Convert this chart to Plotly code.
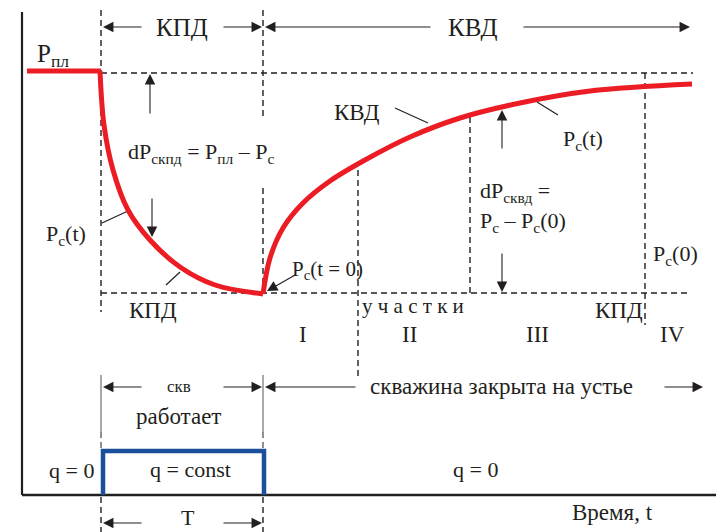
import plotly.graph_objects as go

# ---------------- data (schematic units: x = time axis, y = pressure axis, downward) ----------
t_plateau = [27, 101]
p_plateau = [71, 71]

t_drawdown = [100, 104, 113, 128, 150, 180, 215, 263]
p_drawdown = [71, 125, 170, 210, 240, 267, 285, 294]

t_buildup = [263, 270, 283, 303, 330, 365, 410, 460, 520, 590, 692]
p_buildup = [294, 258, 228, 203, 181, 160, 137, 118, 103, 91, 84]

t_rate = [103, 103, 264, 264]
q_rate = [495, 451, 451, 495]

region_labels = ["I", "II", "III", "IV"]
region_x = [303, 409, 537, 672]

FONT = "Liberation Serif, Times New Roman, serif"
INK = "#231f20"
RED = "#ec1c24"
BLUE = "#1b4f9c"

fig = go.Figure()

def line(xs, ys, dash=None, width=1.4, color=INK):
    fig.add_trace(go.Scatter(x=xs, y=ys, mode="lines", hoverinfo="skip",
                             line=dict(color=color, width=width, dash=dash),
                             showlegend=False))

DASH = "6px,4px"
# dashed guide lines
line([101, 101], [10, 312], DASH)
line([263, 263], [10, 117], DASH)
line([263, 263], [188, 295], DASH)
line([101, 693], [73, 73], DASH)
line([101, 690], [293, 293], DASH)
line([358, 358], [170, 378], DASH)
line([470, 470], [117, 293], DASH)
line([645, 645], [73, 325], DASH)
line([101, 101], [432, 452], DASH, 1.0)
line([263, 263], [432, 452], DASH, 1.0)
line([101, 101], [497, 532], DASH)
line([263, 263], [497, 532], DASH)
# thin solid guides
line([101, 101], [375, 432], None, 1.0, "#555")
line([263, 263], [375, 432], None, 1.0, "#555")

# axes
line([22, 22], [12, 495], None, 2.2)
line([22, 716], [495, 495], None, 2.5)

# leader lines
line([395, 428], [108, 123], None, 1.2)
line([537, 558], [102, 115], None, 1.2)
line([102, 128], [223, 211], None, 1.2)
line([166, 180], [285, 272], None, 1.2)

# curves
fig.add_trace(go.Scatter(x=t_plateau, y=p_plateau, mode="lines", hoverinfo="skip", showlegend=False,
                         line=dict(color=RED, width=5)))
fig.add_trace(go.Scatter(x=t_drawdown, y=p_drawdown, mode="lines", hoverinfo="skip", showlegend=False,
                         line=dict(color=RED, width=5, shape="spline", smoothing=1.0)))
fig.add_trace(go.Scatter(x=t_buildup, y=p_buildup, mode="lines", hoverinfo="skip", showlegend=False,
                         line=dict(color=RED, width=5, shape="spline", smoothing=1.0)))
fig.add_trace(go.Scatter(x=t_rate, y=q_rate, mode="lines", hoverinfo="skip", showlegend=False,
                         line=dict(color=BLUE, width=4.5)))

ann = []

def text(x, y, s, size=22, xanchor="center", yanchor="middle"):
    ann.append(dict(x=x, y=y, xref="x", yref="y", text=s, showarrow=False,
                    xanchor=xanchor, yanchor=yanchor,
                    font=dict(family=FONT, size=size, color=INK)))

def arrow(hx, hy, tx, ty):
    ann.append(dict(x=hx, y=hy, ax=tx, ay=ty, xref="x", yref="y", axref="x", ayref="y",
                    text="", showarrow=True, arrowhead=2, arrowsize=1.9, arrowwidth=1.1,
                    arrowcolor=INK))

text(53, 55, "P<sub>пл</sub>", 25)
text(182, 27, "КПД", 25)
text(472, 27, "КВД", 25)
text(126, 153, "dP<sub>скпд</sub> = P<sub>пл</sub> – P<sub>c</sub>", 22, "left")
text(357, 112, "КВД", 23)
text(583, 140, "P<sub>c</sub>(t)", 22)
text(66, 235, "P<sub>c</sub>(t)", 22)
text(153, 310, "КПД", 23)
text(290, 270, "P<sub>c</sub>(t = 0)", 21, "left")
text(478, 192, "dP<sub>сквд</sub> =", 22, "left")
text(478, 222, "P<sub>c</sub> – P<sub>c</sub>(0)", 22, "left")
text(651, 255, "P<sub>c</sub>(0)", 22, "left")
text(413, 306, "у\u2005ч\u2005а\u2005с\u2005т\u2005к\u2005и", 21)
for lab, xv in zip(region_labels, region_x):
    text(xv, 334, lab, 23)
text(619, 310, "КПД", 23)
text(179, 386, "скв", 17)
text(501, 386, "скважина закрыта на устье", 23)
text(178, 416, "работает", 23)
text(71, 470, "q = 0", 22)
text(190, 469, "q = const", 22)
text(475, 469, "q = 0", 22)
text(612, 512, "Время, t", 23)
text(188, 532, "T", 22, "center", "bottom")

# arrows
arrow(103, 27, 143, 27); arrow(262, 27, 222, 27)
arrow(265, 27, 432, 27); arrow(690, 27, 522, 27)
arrow(150, 74, 150, 115); arrow(152, 237, 152, 197)
arrow(502, 110, 502, 150); arrow(502, 292, 502, 252)
arrow(267, 291, 297, 274)
arrow(103, 387, 143, 387); arrow(262, 387, 222, 387)
arrow(265, 387, 357, 387); arrow(703, 387, 663, 387)
arrow(103, 523, 143, 523); arrow(262, 523, 222, 523)

fig.update_layout(
    width=716, height=532, margin=dict(l=0, r=0, t=0, b=0),
    paper_bgcolor="white", plot_bgcolor="white",
    xaxis=dict(range=[0, 716], visible=False, fixedrange=True),
    yaxis=dict(range=[532, 0], visible=False, fixedrange=True),
    annotations=ann, showlegend=False,
)

fig.write_html("out.html", config={"displayModeBar": False},
               post_script="document.body.style.margin='0';")
